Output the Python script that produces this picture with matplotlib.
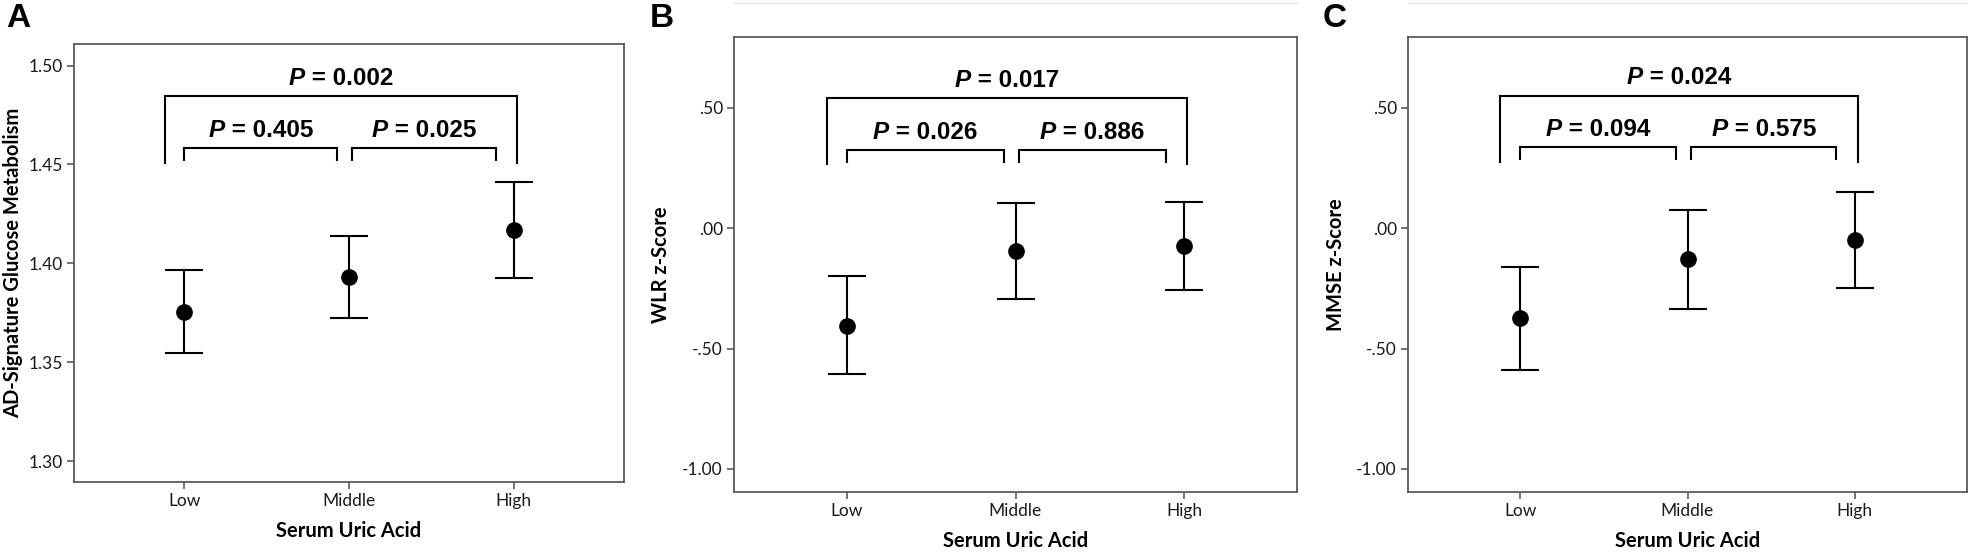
import matplotlib.pyplot as plt
from matplotlib.offsetbox import TextArea, HPacker, AnnotationBbox
from matplotlib.ticker import FuncFormatter

# group labels shared by all three panels
groups = ['Low', 'Middle', 'High']

# A: AD-signature glucose metabolism (mean, 95% CI)
fdg_mean = [1.3753, 1.3931, 1.4169]
fdg_low = [1.3547, 1.3723, 1.3927]
fdg_high = [1.3965, 1.4139, 1.4412]
fdg_p = ['0.405', '0.025', '0.002']

# B: WLR z-score
wlr_mean = [-0.404, -0.094, -0.074]
wlr_low = [-0.607, -0.294, -0.257]
wlr_high = [-0.200, 0.106, 0.109]
wlr_p = ['0.026', '0.886', '0.017']

# C: MMSE z-score
mmse_mean = [-0.374, -0.129, -0.049]
mmse_low = [-0.587, -0.334, -0.247]
mmse_high = [-0.160, 0.075, 0.153]
mmse_p = ['0.094', '0.575', '0.024']

TICK_FONT = 'Lato'
P_FONT = 'Liberation Sans'
SPINE = '#5a5a5a'


def spss_fmt(v, pos):
    s = '%.2f' % v
    if s.startswith('0.'):
        s = s[1:]
    elif s.startswith('-0.'):
        s = '-' + s[2:]
    return s


def p_label(ax, x, y, value, dy):
    parts = [TextArea('P', textprops=dict(family=P_FONT, weight='bold', style='italic', size=17.5)),
             TextArea(' = ' + value, textprops=dict(family=P_FONT, weight='bold', size=17.5))]
    box = HPacker(children=parts, pad=0, sep=0, align='baseline')
    ab = AnnotationBbox(box, (x, y), xybox=(0, dy), boxcoords='offset points',
                        frameon=False, box_alignment=(0.5, 0.5), pad=0)
    ax.add_artist(ab)


def bracket(ax, x0, x1, ytop, ybot):
    ax.plot([x0, x0, x1, x1], [ybot, ytop, ytop, ybot], color='black', lw=1.5,
            solid_capstyle='butt', solid_joinstyle='miter')


def panel(ax, mean, low, high, pvals, ylabel, ylim, yticks, fmt, big, small, ylab_x):
    xs = [1, 2, 3]
    err = [[m - l for m, l in zip(mean, low)], [h - m for m, h in zip(mean, high)]]
    ax.errorbar(xs, mean, yerr=err, fmt='o', color='black', ms=11, capsize=14,
                elinewidth=1.5, capthick=1.5)
    ax.set_xlim(0.33, 3.67)
    ax.set_ylim(*ylim)
    ax.set_yticks(yticks)
    ax.yaxis.set_major_formatter(FuncFormatter(fmt))
    ax.set_xticks(xs)
    ax.set_xticklabels(groups)
    for s in ax.spines.values():
        s.set_color(SPINE)
        s.set_linewidth(1.3)
    ax.tick_params(direction='out', length=5, width=1.2, color=SPINE, pad=3,
                   labelsize=12.5, labelcolor='#1a1a1a')
    for t in ax.get_xticklabels() + ax.get_yticklabels():
        t.set_family(TICK_FONT)
    ax.set_xlabel('Serum Uric Acid', family=TICK_FONT, weight='bold', size=14.5)
    ax.set_ylabel(ylabel, family=TICK_FONT, weight='bold', size=14.5)
    h_px = ax.get_position().height * 557
    ax.xaxis.set_label_coords(0.5, -39.0 / h_px)
    ax.yaxis.set_label_coords(ylab_x, 0.5)

    # brackets: all groups (big) and neighbouring pairs (small)
    bracket(ax, 0.88, 3.02, big[0], big[1])
    bracket(ax, 1.0, 1.93, small[0], small[1])
    bracket(ax, 2.02, 2.89, small[0], small[1])
    p_label(ax, 1.95, big[0], pvals[2], 13)
    p_label(ax, 1.465, small[0], pvals[0], 12.5)
    p_label(ax, 2.455, small[0], pvals[1], 12.5)


fig = plt.figure(figsize=(19.72, 5.57), dpi=100)
axA = fig.add_axes([74 / 1972, 1 - 482 / 557, 550 / 1972, 438.5 / 557])
axB = fig.add_axes([734 / 1972, 1 - 492 / 557, 563 / 1972, 455 / 557])
axC = fig.add_axes([1408 / 1972, 1 - 492 / 557, 559 / 1972, 455 / 557])

panel(axA, fdg_mean, fdg_low, fdg_high, fdg_p, 'AD-Signature Glucose Metabolism',
      (1.2894, 1.5112), [1.30, 1.35, 1.40, 1.45, 1.50], lambda v, p: '%.2f' % v,
      (1.4844, 1.4503), (1.4582, 1.4516), -0.093)
panel(axB, wlr_mean, wlr_low, wlr_high, wlr_p, 'WLR z-Score',
      (-1.0956, 0.795), [-1.0, -0.5, 0.0, 0.5], spss_fmt,
      (0.541, 0.262), (0.325, 0.272), -0.112)
panel(axC, mmse_mean, mmse_low, mmse_high, mmse_p, 'MMSE z-Score',
      (-1.0956, 0.795), [-1.0, -0.5, 0.0, 0.5], spss_fmt,
      (0.551, 0.272), (0.340, 0.284), -0.111)

# faint scan line above panels B and C
for ax in (axB, axC):
    ax.plot([0, 1], [1.075, 1.075], transform=ax.transAxes, clip_on=False,
            color='#e6e6e6', lw=1)

for lab, x in (('A', 6), ('B', 650), ('C', 1323)):
    fig.text(x / 1972, 1 - 3 / 557, lab, family=P_FONT, weight='bold', size=24,
             ha='left', va='top')

fig.savefig('out.png', dpi=100, facecolor='white')
